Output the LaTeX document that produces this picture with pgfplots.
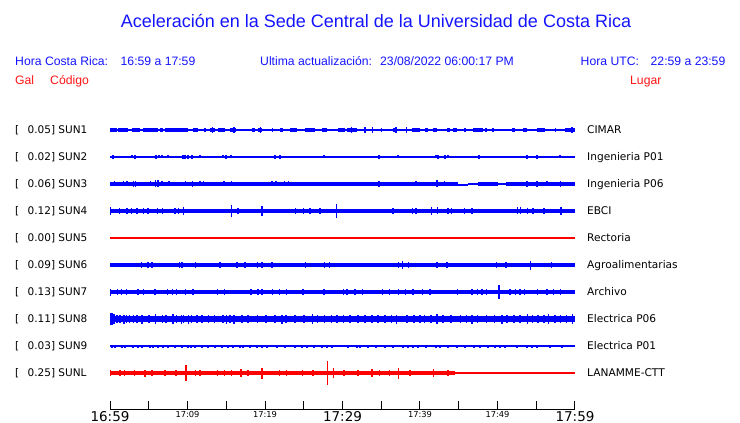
\documentclass[border=0pt]{standalone}
\usepackage{pgfplots}
\pgfplotsset{compat=1.18}
\usepackage{fontspec}
\setmainfont{DejaVu Sans}
\newfontfamily\arialf{Liberation Sans}
\definecolor{tblue}{RGB}{0,0,255}
\definecolor{tred}{RGB}{255,0,0}
\definecolor{hblue}{RGB}{20,20,255}
\definecolor{hred}{RGB}{255,20,20}
\pgfplotsset{
  spk/.style 2 args={draw=none, mark=none, forget plot,
    error bars/.cd, y dir=both, y explicit, error mark=none,
    error bar style={line width=#2, draw=#1, solid}},
  seg/.style 2 args={draw=none, mark=none, forget plot,
    error bars/.cd, x dir=both, x explicit, error mark=none,
    error bar style={line width=#2, draw=#1, solid}},
}
\begin{document}
\begin{tikzpicture}
\useasboundingbox (0,0) rectangle (740pt,423pt);
% header
\node[anchor=base, inner sep=0, font=\arialf\fontsize{18}{18}\selectfont, text=hblue] at (376pt,{(423-28)*1pt}) {Aceleración en la Sede Central de la Universidad de Costa Rica};
\begin{scope}[every node/.style={anchor=base west, inner sep=0, font=\arialf\fontsize{12.2}{12}\selectfont, text=hblue}]
\node at (15pt,{(423-65.5)*1pt}) {Hora Costa Rica:};
\node at (120.5pt,{(423-65.5)*1pt}) {16:59 a 17:59};
\node at (260pt,{(423-65.5)*1pt}) {Ultima actualización:};
\node at (380pt,{(423-65.5)*1pt}) {23/08/2022 06:00:17 PM};
\node at (580.5pt,{(423-65.5)*1pt}) {Hora UTC:};
\node at (650.5pt,{(423-65.5)*1pt}) {22:59 a 23:59};
\node[text=hred] at (15pt,{(423-85)*1pt}) {Gal};
\node[text=hred] at (50pt,{(423-85)*1pt}) {Código};
\node[text=hred] at (630pt,{(423-85)*1pt}) {Lugar};
\end{scope}
% station labels
\foreach \y/\v/\c/\n in {130/0.05/SUN1/CIMAR, 157/0.02/SUN2/Ingenieria P01, 184/0.06/SUN3/Ingenieria P06, 211/0.12/SUN4/EBCI, 238/0.00/SUN5/Rectoria, 265/0.09/SUN6/Agroalimentarias, 292/0.13/SUN7/Archivo, 319/0.11/SUN8/Electrica P06, 346/0.03/SUN9/Electrica P01, 373/0.25/SUNL/LANAMME-CTT}{
  \node[anchor=base west, inner sep=0, font=\fontsize{10.5}{10.5}\selectfont] at (15pt,{(419-\y)*1pt}) {[};
  \node[anchor=base west, inner sep=0, font=\fontsize{10.5}{10.5}\selectfont] at (27.5pt,{(419-\y)*1pt}) {\v] \c};
  \node[anchor=base west, inner sep=0, font=\fontsize{10.6}{10.6}\selectfont] at (587pt,{(419-\y)*1pt}) {\n};
}
\begin{axis}[
  at={(110pt,14pt)}, anchor=south west,
  scale only axis, width=465pt, height=309pt,
  xmin=0, xmax=60, ymin=100, ymax=409, y dir=reverse,
  clip=false,
  axis x line*=bottom, axis y line=none,
  x axis line style={-, line width=1pt, black},
  tick align=inside,
  xtick={0,10,20,30,40,50,60},
  minor xtick={5,15,25,35,45,55},
  major tick length=8.5pt, minor tick length=8.5pt,
  every tick/.style={black, line width=1pt},
  xticklabels={\mbox{\fontsize{13.5}{13.5}\selectfont 16:59},\mbox{\fontsize{8.3}{8.3}\selectfont 17:09},\mbox{\fontsize{8.3}{8.3}\selectfont 17:19},\mbox{\fontsize{13.5}{13.5}\selectfont 17:29},\mbox{\fontsize{8.3}{8.3}\selectfont 17:39},\mbox{\fontsize{8.3}{8.3}\selectfont 17:49},\mbox{\fontsize{13.5}{13.5}\selectfont 17:59}},
  xticklabel style={anchor=north, inner sep=0pt, yshift=-1.8pt},
  unbounded coords=jump,
]
% ---------- SUN1 (CIMAR)
\addplot[tblue, line width=1.3pt] coordinates {(0,130) (60,130)};
\addplot[seg={tblue}{3.5pt}] coordinates {(0.45,130) +- (0.45,0) (1.65,130) +- (0.65,0) (3.35,130) +- (0.55,0) (5.25,130) +- (0.95,0) (6.65,130) +- (0.15,0) (8.6,130) +- (1.5,0) (11.05,130) +- (0.35,0) (12.25,130) +- (0.15,0) (13.2,130) +- (0.3,0) (14.35,130) +- (0.45,0) (15.9,130) +- (0.4,0) (18.5,130) +- (0.2,0) (19.35,130) +- (0.25,0) (22.1,130) +- (0.2,0) (23.65,130) +- (0.45,0) (25.85,130) +- (0.65,0) (27.7,130) +- (0.3,0) (29.85,130) +- (0.45,0) (31.25,130) +- (0.65,0) (36.75,130) +- (0.25,0) (39.5,130) +- (0.5,0) (40.8,130) +- (0.2,0) (41.95,130) +- (0.25,0) (43.7,130) +- (0.2,0) (44.55,130) +- (0.25,0) (47.45,130) +- (0.65,0) (49.4,130) +- (0.1,0) (52.1,130) +- (0.2,0) (53.55,130) +- (0.25,0) (55.6,130) +- (0.5,0) (59.35,130) +- (0.65,0)};
\addplot[spk={tblue}{1.3pt}] coordinates {(2.3,130) +- (0,2) (5.0,130) +- (0,2) (13.2,130) +- (0,3) (16.0,130) +- (0,3) (19.4,130) +- (0,3) (21.0,130) +- (0,2) (26.0,130) +- (0,2) (31.2,130) +- (0,3) (32.9,130) +- (0,3) (33.9,130) +- (0,3) (35.0,130) +- (0,2) (36.9,130) +- (0,3) (38.3,130) +- (0,3) (45.8,130) +- (0,2) (48.5,130) +- (0,2) (57.5,130) +- (0,2) (59.6,130) +- (0,3)};
% ---------- SUN2 (Ingenieria P01)
\addplot[tblue, line width=1.1pt] coordinates {(0,157) (60,157)};
\addplot[spk={tblue}{2pt}] coordinates {(0.4,157) +- (0,2) (2.8,157) +- (0,1.5) (3.2,157) +- (0,2) (5.9,157) +- (0,2) (6.3,157) +- (0,1.5) (6.7,157) +- (0,1.5) (7.5,157) +- (0,1.5) (9.4,157) +- (0,2) (9.7,157) +- (0,2) (10.1,157) +- (0,2) (10.6,157) +- (0,2) (11.6,157) +- (0,1.5) (14.6,157) +- (0,1.5) (15.0,157) +- (0,2) (15.6,157) +- (0,1.5) (21.3,157) +- (0,2) (21.9,157) +- (0,2) (27.6,157) +- (0,1.5) (34.7,157) +- (0,2) (37.2,157) +- (0,1.5) (42.1,157) +- (0,1.5) (42.3,157) +- (0,2) (43.2,157) +- (0,2) (43.6,157) +- (0,1.5) (47.6,157) +- (0,2) (53.8,157) +- (0,2) (55.1,157) +- (0,2) (58.1,157) +- (0,1.5)};
% ---------- SUN3 (Ingenieria P06)
\addplot[tblue, line width=3.9pt] coordinates {(0,184) (44.9,184) (44.9,nan) (47.5,184) (50.1,184) (50.1,nan) (51.1,184) (60,184)};
\addplot[tblue, line width=1.2pt] coordinates {(44.9,185) (46.2,185) (46.2,nan) (46.2,184) (47.5,184) (47.5,nan) (50.1,184) (51.1,184)};
\addplot[spk={tblue}{1.3pt}] coordinates {(0.6,184) +- (0,2.5) (1.7,184) +- (0,2.5) (2.2,184) +- (0,2.5) (3.0,184) +- (0,3) (3.3,184) +- (0,3) (5.2,184) +- (0,2.5) (5.9,184) +- (0,3.5) (6.2,184) +- (0,3.5) (6.7,184) +- (0,2.5) (7.6,184) +- (0,2.5) (9.7,184) +- (0,2.5) (10.6,184) +- (0,3) (11.6,184) +- (0,2.5) (12.1,184) +- (0,2.5) (14.7,184) +- (0,2.5) (15.7,184) +- (0,2.5) (20.9,184) +- (0,2.5) (21.4,184) +- (0,2.5) (22.5,184) +- (0,2.5) (23.0,184) +- (0,2.5) (34.7,184) +- (0,3) (39.5,184) +- (0,2.5) (42.2,184) +- (0,3.5) (43.2,184) +- (0,2.5) (53.8,184) +- (0,3) (55.1,184) +- (0,3) (56.4,184) +- (0,2.5) (58.1,184) +- (0,3)};
% ---------- SUN4 (EBCI)
\addplot[tblue, line width=4.3pt] coordinates {(0,211) (60,211)};
\addplot[spk={tblue}{1.3pt}] coordinates {(0.1,211) +- (0,4) (1.2,211) +- (0,2.8) (2.1,211) +- (0,2.8) (2.3,211) +- (0,2.8) (2.8,211) +- (0,2.8) (3.5,211) +- (0,2.8) (4.3,211) +- (0,3) (4.9,211) +- (0,2.8) (6.1,211) +- (0,2.8) (6.8,211) +- (0,2.8) (8.4,211) +- (0,3) (8.8,211) +- (0,3) (9.5,211) +- (0,4) (15.7,211) +- (0,6) (16.5,211) +- (0,3) (19.6,211) +- (0,5) (23.9,211) +- (0,2.8) (25.0,211) +- (0,2.8) (25.8,211) +- (0,3) (27.1,211) +- (0,2.8) (29.2,211) +- (0,7) (36.5,211) +- (0,2.8) (39.0,211) +- (0,2.8) (39.5,211) +- (0,3) (41.5,211) +- (0,4) (42.3,211) +- (0,3.5) (43.6,211) +- (0,2.8) (44.1,211) +- (0,2.8) (45.7,211) +- (0,2.8) (46.7,211) +- (0,3) (52.6,211) +- (0,3.5) (53.0,211) +- (0,3.5) (53.9,211) +- (0,2.8) (54.6,211) +- (0,3) (56.0,211) +- (0,2.8) (58.2,211) +- (0,4)};
% ---------- SUN5 (Rectoria)
\addplot[tred, line width=1.1pt] coordinates {(0,238) (60,238)};
% ---------- SUN6 (Agroalimentarias)
\addplot[tblue, line width=4.3pt] coordinates {(0,265) (60,265)};
\addplot[spk={tblue}{1.3pt}] coordinates {(4.1,265) +- (0,2.8) (4.9,265) +- (0,2.8) (5.4,265) +- (0,2.8) (9.0,265) +- (0,3) (9.3,265) +- (0,3) (11.0,265) +- (0,2.8) (14.2,265) +- (0,2.8) (16.4,265) +- (0,2.8) (17.4,265) +- (0,2.8) (19.0,265) +- (0,2.8) (19.6,265) +- (0,2.8) (20.9,265) +- (0,2.8) (25.2,265) +- (0,2.8) (27.7,265) +- (0,3) (28.3,265) +- (0,2.8) (37.2,265) +- (0,3) (37.7,265) +- (0,4) (38.5,265) +- (0,2.8) (42.2,265) +- (0,2.8) (43.5,265) +- (0,2.8) (49.9,265) +- (0,2.8) (51.1,265) +- (0,3) (54.3,265) +- (0,4.5) (57.0,265) +- (0,2.8)};
% ---------- SUN7 (Archivo)
\addplot[tblue, line width=4.3pt] coordinates {(0,292) (60,292)};
\addplot[spk={tblue}{1.3pt}] coordinates {(0.1,292) +- (0,3.5) (1.0,292) +- (0,2.8) (1.5,292) +- (0,2.8) (2.1,292) +- (0,2.8) (3.6,292) +- (0,2.8) (4.3,292) +- (0,2.8) (5.8,292) +- (0,2.8) (7.4,292) +- (0,2.8) (8.1,292) +- (0,2.8) (8.6,292) +- (0,2.8) (9.7,292) +- (0,2.8) (10.7,292) +- (0,2.8) (13.9,292) +- (0,2.8) (14.8,292) +- (0,3) (18.2,292) +- (0,2.8) (19.1,292) +- (0,2.8) (19.6,292) +- (0,2.8) (21.0,292) +- (0,2.8) (21.9,292) +- (0,2.8) (22.8,292) +- (0,2.8) (24.9,292) +- (0,2.8) (27.6,292) +- (0,2.8) (30.1,292) +- (0,2.8) (30.6,292) +- (0,2.8) (31.6,292) +- (0,2.8) (32.6,292) +- (0,2.8) (35.2,292) +- (0,3) (36.1,292) +- (0,2.8) (37.2,292) +- (0,2.8) (38.1,292) +- (0,2.8) (39.1,292) +- (0,2.8) (40.3,292) +- (0,2.8) (41.3,292) +- (0,3) (44.8,292) +- (0,2.8) (46.7,292) +- (0,2.8) (47.4,292) +- (0,2.8) (48.0,292) +- (0,2.8) (48.6,292) +- (0,2.8) (50.2,292) +- (0,7) (51.6,292) +- (0,2.8) (52.3,292) +- (0,2.8) (52.9,292) +- (0,2.8) (53.5,292) +- (0,2.8) (55.2,292) +- (0,2.8) (56.4,292) +- (0,2.8) (57.2,292) +- (0,2.8) (58.1,292) +- (0,2.8)};
% ---------- SUN8 (Electrica P06)
\addplot[tblue, line width=5.8pt] coordinates {(0,319) (60,319)};
\addplot[spk={tblue}{1.5pt}] coordinates {(0.1,319) +- (0,6) (0.3,319) +- (0,6) (0.5,319) +- (0,5) (0.9,319) +- (0,4) (1.3,319) +- (0,4) (1.8,319) +- (0,4.5) (2.1,319) +- (0,4) (2.5,319) +- (0,4) (3.0,319) +- (0,4) (3.5,319) +- (0,4) (4.1,319) +- (0,4.5) (5.0,319) +- (0,4) (5.9,319) +- (0,5) (6.8,319) +- (0,4) (7.2,319) +- (0,4) (8.1,319) +- (0,5) (8.6,319) +- (0,4) (9.2,319) +- (0,4.5) (9.5,319) +- (0,4) (10.1,319) +- (0,4.5) (10.5,319) +- (0,4) (11.2,319) +- (0,4) (11.9,319) +- (0,4) (12.7,319) +- (0,4) (13.5,319) +- (0,4) (14.6,319) +- (0,4) (15.0,319) +- (0,4.5) (15.5,319) +- (0,4) (16.0,319) +- (0,4.5) (17.0,319) +- (0,4) (17.8,319) +- (0,4) (19.0,319) +- (0,4) (20.1,319) +- (0,4) (21.3,319) +- (0,4) (22.2,319) +- (0,4.5) (22.7,319) +- (0,4) (23.9,319) +- (0,4) (25.0,319) +- (0,4) (26.1,319) +- (0,5) (26.8,319) +- (0,4) (27.7,319) +- (0,4) (28.6,319) +- (0,4) (29.3,319) +- (0,4) (30.1,319) +- (0,4) (31.0,319) +- (0,4) (32.0,319) +- (0,4) (32.9,319) +- (0,4) (33.8,319) +- (0,4) (34.6,319) +- (0,4) (35.5,319) +- (0,4) (36.3,319) +- (0,4) (37.0,319) +- (0,4.5) (38.3,319) +- (0,4) (39.2,319) +- (0,4) (40.0,319) +- (0,4) (40.6,319) +- (0,4) (41.4,319) +- (0,4) (42.2,319) +- (0,5) (43.0,319) +- (0,4) (44.0,319) +- (0,4) (45.2,319) +- (0,4) (46.0,319) +- (0,4) (46.7,319) +- (0,4.5) (47.4,319) +- (0,4) (48.6,319) +- (0,4) (49.6,319) +- (0,4) (50.6,319) +- (0,4.5) (51.2,319) +- (0,4) (52.1,319) +- (0,4) (52.9,319) +- (0,4) (53.9,319) +- (0,5) (54.5,319) +- (0,4) (55.2,319) +- (0,4) (56.0,319) +- (0,4) (56.6,319) +- (0,5) (57.4,319) +- (0,4) (58.1,319) +- (0,4) (58.9,319) +- (0,4) (59.7,319) +- (0,5)};
% ---------- SUN9 (Electrica P01)
\addplot[tblue, line width=1.3pt] coordinates {(0,346) (60,346)};
\addplot[spk={tblue}{2pt}] coordinates {(0.3,346) +- (0,1.5) (0.6,346) +- (0,1.5) (1.5,346) +- (0,1.5) (1.9,346) +- (0,1.5) (3.0,346) +- (0,1.5) (3.6,346) +- (0,1.5) (4.1,346) +- (0,1.5) (5.2,346) +- (0,1.5) (5.5,346) +- (0,1.5) (6.2,346) +- (0,1.5) (6.8,346) +- (0,1.5) (7.5,346) +- (0,1.5) (8.4,346) +- (0,1.5) (9.3,346) +- (0,1.5) (10.1,346) +- (0,1.5) (10.5,346) +- (0,1.5) (11.0,346) +- (0,1.5) (11.9,346) +- (0,1.5) (12.6,346) +- (0,1.5) (13.5,346) +- (0,1.5) (14.5,346) +- (0,1.5) (15.2,346) +- (0,1.5) (15.9,346) +- (0,1.5) (16.8,346) +- (0,1.5) (17.2,346) +- (0,1.5) (18.1,346) +- (0,1.5) (19.0,346) +- (0,1.5) (19.6,346) +- (0,1.5) (20.3,346) +- (0,1.5) (21.5,346) +- (0,1.5) (22.6,346) +- (0,1.5) (23.9,346) +- (0,1.5) (24.8,346) +- (0,1.5) (25.4,346) +- (0,1.5) (26.3,346) +- (0,1.5) (27.4,346) +- (0,1.5) (28.0,346) +- (0,1.5) (28.6,346) +- (0,1.5) (30.7,346) +- (0,1.5) (31.9,346) +- (0,1.5) (32.3,346) +- (0,1.5) (33.3,346) +- (0,1.5) (34.3,346) +- (0,1.5) (35.5,346) +- (0,1.5) (36.5,346) +- (0,1.5) (37.8,346) +- (0,1.5) (38.5,346) +- (0,1.5) (39.1,346) +- (0,1.5) (39.7,346) +- (0,1.5) (40.8,346) +- (0,1.5) (42.1,346) +- (0,1.5) (42.6,346) +- (0,1.5) (43.6,346) +- (0,1.5) (44.8,346) +- (0,1.5) (45.8,346) +- (0,1.5) (47.0,346) +- (0,1.5) (47.7,346) +- (0,1.5) (48.8,346) +- (0,1.5) (49.7,346) +- (0,1.5) (50.3,346) +- (0,1.5) (51.0,346) +- (0,1.5) (52.5,346) +- (0,1.5) (53.8,346) +- (0,1.5) (54.5,346) +- (0,1.5) (55.1,346) +- (0,1.5) (56.8,346) +- (0,1.5) (58.3,346) +- (0,1.5)};
% ---------- SUNL (LANAMME-CTT)
\addplot[tred, line width=4.3pt] coordinates {(0,373) (44.5,373)};
\addplot[tred, line width=1.1pt] coordinates {(44.5,373) (60,373)};
\addplot[spk={tred}{1.3pt}] coordinates {(0.1,373) +- (0,3) (1.3,373) +- (0,2.8) (1.9,373) +- (0,2.8) (3.2,373) +- (0,2.8) (4.5,373) +- (0,3.5) (5.4,373) +- (0,2.8) (7.1,373) +- (0,3) (8.5,373) +- (0,2.8) (9.8,373) +- (0,8) (11.0,373) +- (0,2.8) (11.6,373) +- (0,3) (13.9,373) +- (0,2.8) (14.8,373) +- (0,2.8) (15.7,373) +- (0,2.8) (16.9,373) +- (0,4) (17.8,373) +- (0,2.8) (19.6,373) +- (0,5.5) (21.9,373) +- (0,2.8) (22.8,373) +- (0,3) (24.8,373) +- (0,2.8) (26.2,373) +- (0,2.8) (28.1,373) +- (0,12) (28.8,373) +- (0,5) (30.1,373) +- (0,2.8) (30.3,373) +- (0,2.8) (32.0,373) +- (0,2.8) (33.8,373) +- (0,4) (34.8,373) +- (0,2.8) (36.1,373) +- (0,3) (37.2,373) +- (0,5.5) (38.7,373) +- (0,2.8) (41.7,373) +- (0,4) (43.6,373) +- (0,2.8)};
\end{axis}
\end{tikzpicture}
\end{document}
